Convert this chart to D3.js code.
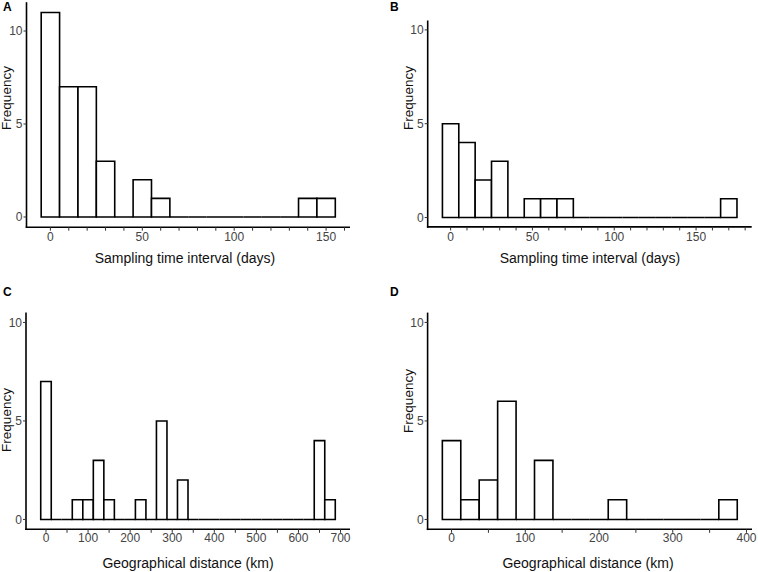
<!DOCTYPE html>
<html><head><meta charset="utf-8">
<script src="https://cdn.jsdelivr.net/npm/d3@7/dist/d3.min.js"></script>
<style>body{margin:0;background:#fff}svg{display:block}</style>
</head><body>
<svg id="chart" width="758" height="572"></svg>
<script>
// Data
const aCenters = [0,10,20,30,40,50,60,70,80,90,100,110,120,130,140,150];
const aCounts  = [11,7,7,3,0,2,1,0,0,0,0,0,0,0,1,1];
const bCenters = [0,10,20,30,40,50,60,70,80,90,100,110,120,130,140,150,160,170];
const bCounts  = [5,4,2,3,0,1,1,1,0,0,0,0,0,0,0,0,0,1];
const cCenters = [0,25,50,75,100,125,150,175,200,225,250,275,300,325,350,375,400,425,450,475,500,525,550,575,600,625,650,675];
const cCounts  = [7,0,0,1,1,3,1,0,0,1,0,5,0,2,0,0,0,0,0,0,0,0,0,0,0,0,4,1];
const dCenters = [0,25,50,75,100,125,150,175,200,225,250,275,300,325,350,375];
const dCounts  = [4,1,2,6,0,3,0,0,0,1,0,0,0,0,0,1];
const timeTickLabels = [0,50,100,150];
const distCTickLabels = [0,100,200,300,400,500,600,700];
const distDTickLabels = [0,100,200,300,400];
const yTickLabels = [0,5,10];
const panelLetters = ["A","B","C","D"];
const xTitles = ["Sampling time interval (days)","Sampling time interval (days)","Geographical distance (km)","Geographical distance (km)"];

const panels = [
  {letter:panelLetters[0], centers:aCenters, counts:aCounts, bw:10, xDom:[-13,163], xRng:[26.5,350], yDom:[-0.55,11.55], yRng:[227.2,2.2],
   minor:d3.range(0,161,10), labels:timeTickLabels, title:xTitles[0], titleX:185, letterPos:[3,11], ylabPos:[11,98], xlabY:263, tickLabY:241},
  {letter:panelLetters[1], centers:bCenters, counts:bCounts, bw:10, xDom:[-14,184], xRng:[427.7,751.7], yDom:[-0.5,10.5], yRng:[226.9,20.5],
   minor:d3.range(0,181,10), labels:timeTickLabels, title:xTitles[1], titleX:590, letterPos:[390,11], ylabPos:[413,98], xlabY:263, tickLabY:241},
  {letter:panelLetters[2], centers:cCenters, counts:cCounts, bw:25, xDom:[-47.5,722.5], xRng:[26,350], yDom:[-0.5,10.5], yRng:[529.3,312.6],
   minor:d3.range(0,701,50), labels:distCTickLabels, title:xTitles[2], titleX:188, letterPos:[3,296], ylabPos:[11,420], xlabY:568, tickLabY:542},
  {letter:panelLetters[3], centers:dCenters, counts:dCounts, bw:25, xDom:[-32.5,407.5], xRng:[427.6,752], yDom:[-0.5,10.5], yRng:[529.3,312.6],
   minor:d3.range(0,401,50), labels:distDTickLabels, title:xTitles[3], titleX:588, letterPos:[390,296], ylabPos:[413,401], xlabY:568, tickLabY:542}
];

const svg = d3.select("#chart");
const font = "'Liberation Sans', Arial, Helvetica, sans-serif";
const lw = 1.6;

panels.forEach(p => {
  const x = d3.scaleLinear().domain(p.xDom).range(p.xRng);
  const y = d3.scaleLinear().domain(p.yDom).range(p.yRng);
  const g = svg.append("g");
  const bins = p.centers.map((c,i)=>({x0:c-p.bw/2, x1:c+p.bw/2, n:p.counts[i]}));
  // bars
  g.selectAll("path.bar").data(bins).join("path")
    .attr("class","bar")
    .attr("d", d => `M${x(d.x0)},${y(0)}V${y(d.n)}H${x(d.x1)}V${y(0)}Z`)
    .attr("fill","#fff").attr("stroke","#000").attr("stroke-width",lw).attr("stroke-linejoin","miter");
  // axis lines
  const x0 = p.xRng[0], yb = p.yRng[0];
  g.append("line").attr("x1",x0).attr("x2",x0).attr("y1",p.yRng[1]).attr("y2",yb+lw/2)
    .attr("stroke","#000").attr("stroke-width",lw);
  g.append("line").attr("x1",x0-lw/2).attr("x2",p.xRng[1]).attr("y1",yb).attr("y2",yb)
    .attr("stroke","#000").attr("stroke-width",lw);
  // x ticks
  g.selectAll("line.xt").data(p.minor).join("line").attr("class","xt")
    .attr("x1",d=>x(d)).attr("x2",d=>x(d)).attr("y1",yb).attr("y2",yb+3.5)
    .attr("stroke","#333").attr("stroke-width",1);
  g.selectAll("text.xl").data(p.labels).join("text").attr("class","xl")
    .attr("x",d=>x(d)).attr("y",p.tickLabY).attr("text-anchor","middle")
    .attr("font-family",font).attr("font-size",12).attr("fill","#444").text(d=>d);
  // y ticks
  g.selectAll("line.yt").data(yTickLabels).join("line").attr("class","yt")
    .attr("x1",x0).attr("x2",x0-3).attr("y1",d=>y(d)).attr("y2",d=>y(d))
    .attr("stroke","#333").attr("stroke-width",1);
  g.selectAll("text.yl").data(yTickLabels).join("text").attr("class","yl")
    .attr("x",x0-4).attr("y",d=>y(d)).attr("dy","0.36em").attr("text-anchor","end")
    .attr("font-family",font).attr("font-size",12).attr("fill","#444").text(d=>d);
  // titles
  g.append("text").attr("x",p.titleX).attr("y",p.xlabY).attr("text-anchor","middle")
    .attr("font-family",font).attr("font-size",14).attr("fill","#111").text(p.title);
  g.append("text").attr("transform",`translate(${p.ylabPos[0]},${p.ylabPos[1]}) rotate(-90)`)
    .attr("text-anchor","middle").attr("font-family",font).attr("font-size",13.5).attr("fill","#111").text("Frequency");
  g.append("text").attr("x",p.letterPos[0]).attr("y",p.letterPos[1])
    .attr("font-family",font).attr("font-size",12).attr("font-weight","bold").attr("fill","#000").text(p.letter);
});
</script>
</body></html>
